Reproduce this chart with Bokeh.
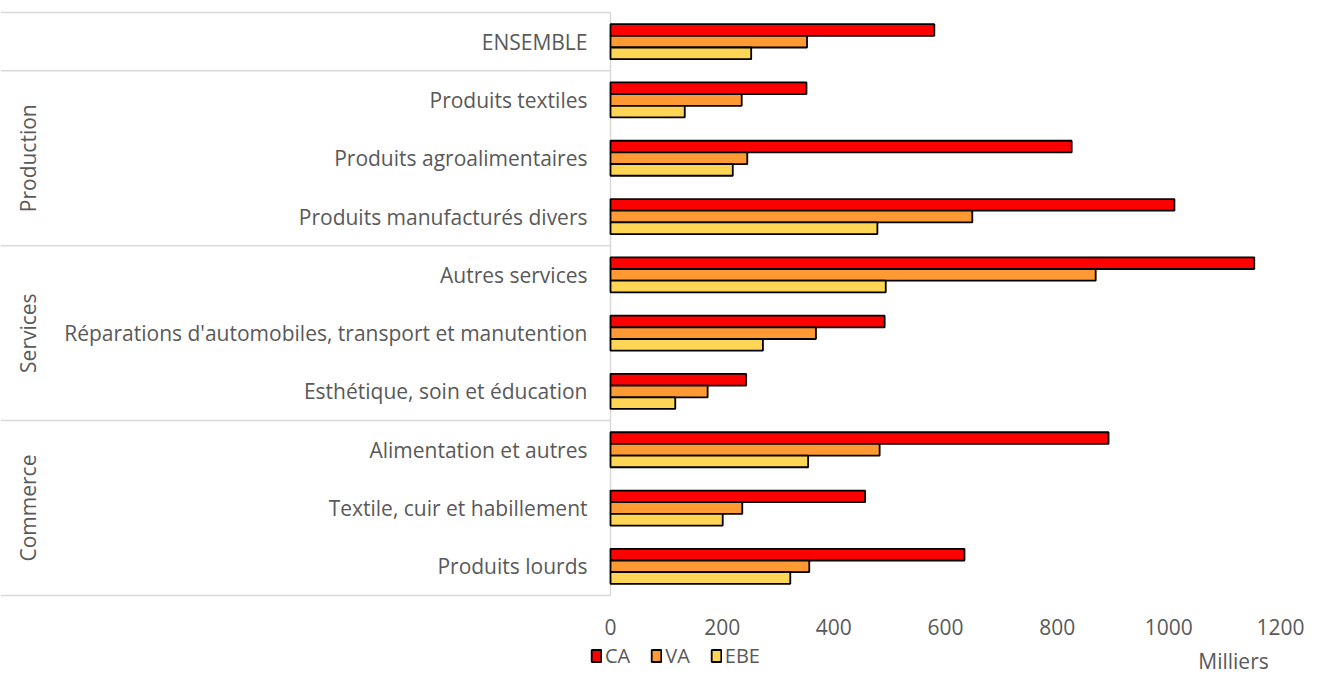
import math
from bokeh.plotting import figure
from bokeh.models import Range1d, FixedTicker, Legend, LegendItem, Label, LinearAxis
from bokeh.core.properties import value
from bokeh.embed import file_html
from bokeh.resources import INLINE

# ---- data ----
categories = [
    "ENSEMBLE",
    "Produits textiles",
    "Produits agroalimentaires",
    "Produits manufacturés divers",
    "Autres services",
    "Réparations d'automobiles, transport et manutention",
    "Esthétique, soin et éducation",
    "Alimentation et autres",
    "Textile, cuir et habillement",
    "Produits lourds",
]
group_names = ["", "Production", "Services", "Commerce"]
group_sizes = [1, 3, 3, 3]
series_names = ["CA", "VA", "EBE"]
ca = [580, 351, 826, 1010, 1153, 491, 243, 892, 456, 634]
va = [352, 235, 245, 648, 869, 368, 174, 482, 236, 356]
ebe = [252, 133, 219, 478, 493, 273, 116, 354, 201, 322]
x_ticks = [0, 200, 400, 600, 800, 1000, 1200]

# ---- layout constants ----
W, H = 1324, 675
FONT = value("Open Sans")
TXT = "#595959"
GRID = "#D9D9D9"
colors = ["#FF0000", "#FF9933", "#FFD555"]
FS = "21px"

ZERO_PX = 610                 # screen x of value 0 inside the frame
PX_PER = 670 / 1200           # pixels per unit
BAND_PX = 58.3
BAND_TOP = 12                 # screen y of first category band
TOP_PX = 10
n = len(categories)

def y_at(py):
    """category-units y for a screen y"""
    return (py - BAND_TOP) / BAND_PX

x_range = Range1d(-ZERO_PX / PX_PER, (W - ZERO_PX) / PX_PER)
y_range = Range1d(y_at(H), y_at(TOP_PX))

p = figure(
    width=W, height=H,
    x_range=x_range, y_range=y_range,
    output_backend="svg", toolbar_location=None,
    x_axis_location=None, y_axis_location=None,
    min_border_left=0, min_border_right=0,
    min_border_top=TOP_PX, min_border_bottom=0,
)
p.outline_line_color = None
p.xgrid.visible = False
p.ygrid.visible = False
p.background_fill_color = "white"

# separators (left category area) and vertical axis line
bounds = [0]
for s in group_sizes:
    bounds.append(bounds[-1] + s)
p.segment(x0=[x_range.start] * len(bounds), x1=[0] * len(bounds),
          y0=bounds, y1=bounds, line_color=GRID, line_width=1.5)
p.segment(x0=[0], x1=[0], y0=[0], y1=[n], line_color=GRID, line_width=1.5)

# bars
bar_h = 0.2
centers = [i + 0.5 for i in range(n)]
renderers = []
for k, (vals, col) in enumerate(zip([ca, va, ebe], colors)):
    ys = [c + (k - 1) * bar_h for c in centers]
    r = p.hbar(y=ys, left=0, right=vals, height=bar_h,
               fill_color=col, line_color="black", line_width=1.8)
    renderers.append(r)

# category labels
p.text(x=[0] * n, y=centers, text=categories, x_offset=-23,
       text_align="right", text_baseline="middle",
       text_font=FONT, text_font_size=FS, text_color=TXT)

# group labels (rotated)
gx = (27 - ZERO_PX) / PX_PER
g_centers, g_texts = [], []
for name, a, b in zip(group_names, bounds[:-1], bounds[1:]):
    if name:
        g_centers.append((a + b) / 2)
        g_texts.append(name)
p.text(x=[gx] * len(g_texts), y=g_centers, text=g_texts, angle=math.pi / 2,
       text_align="center", text_baseline="middle",
       text_font=FONT, text_font_size=FS, text_color=TXT)

# x axis, fixed at the bottom of the category bands
ax = LinearAxis(fixed_location=n + 2 / BAND_PX)
ax.ticker = FixedTicker(ticks=x_ticks)
ax.axis_line_color = None
ax.major_tick_line_color = None
ax.minor_tick_line_color = None
ax.major_tick_out = 0
ax.major_tick_in = 0
ax.major_label_standoff = 21
ax.major_label_text_font = "Open Sans"
ax.major_label_text_font_size = FS
ax.major_label_text_color = TXT
p.add_layout(ax, "below")

# legend
legend = Legend(
    items=[LegendItem(label=nm, renderers=[r]) for nm, r in zip(series_names, renderers)],
    orientation="horizontal", location=(590, 6),
    padding=0, margin=0, spacing=20,
    glyph_width=12, glyph_height=15, label_standoff=3,
    label_text_font="Open Sans", label_text_font_size="20px",
    label_text_color=TXT,
    border_line_color=None, background_fill_alpha=0,
)
p.add_layout(legend, "center")

# unit label
p.add_layout(Label(x=1200, y=y_at(660), x_offset=-47, text="Milliers",
                   text_align="center", text_baseline="middle",
                   text_font="Open Sans", text_font_size="21px", text_color=TXT))

open("out.html", "w").write(file_html(p, INLINE))
